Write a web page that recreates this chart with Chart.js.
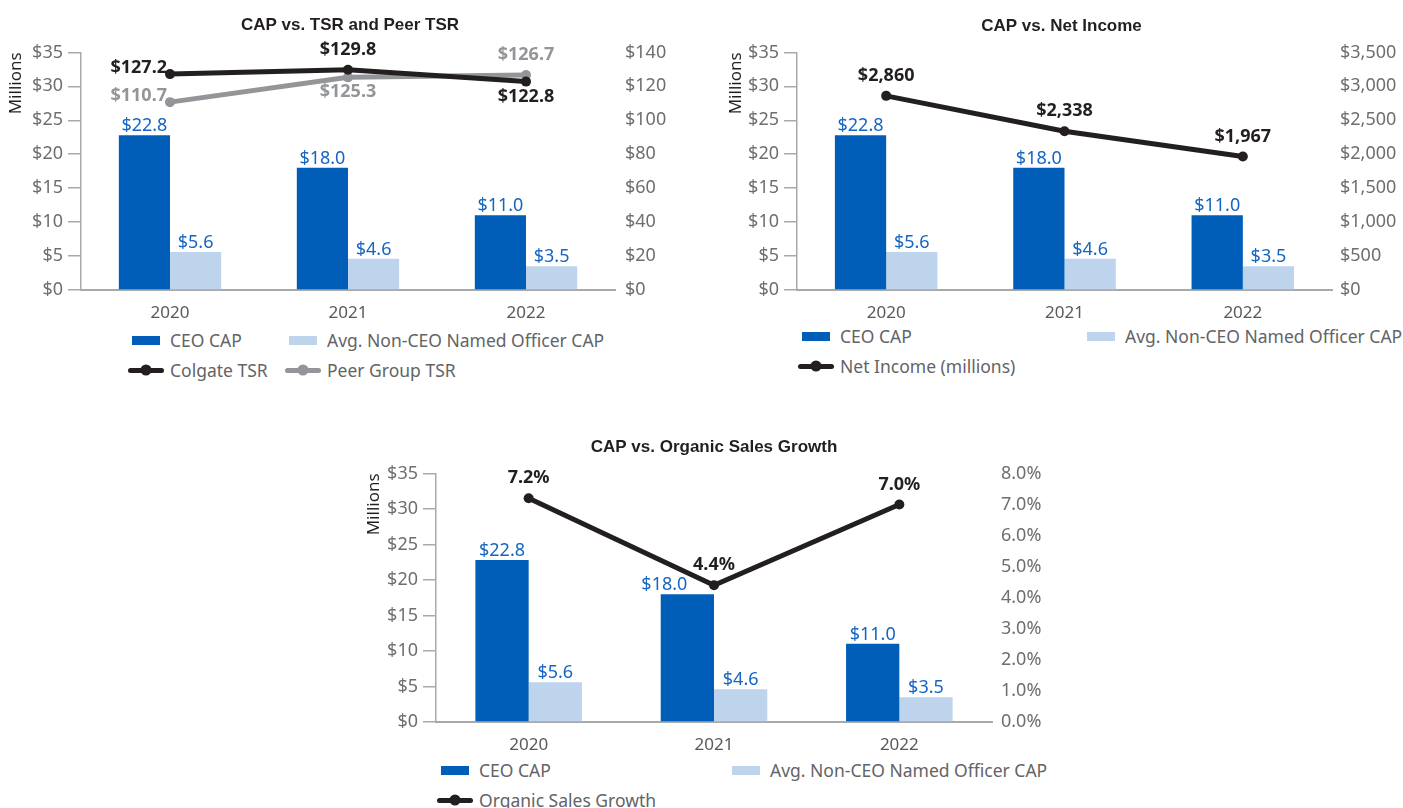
<!DOCTYPE html>
<html>
<head>
<meta charset="utf-8">
<title>CAP charts</title>
<script src="https://cdn.jsdelivr.net/npm/chart.js@4.4.1/dist/chart.umd.min.js"></script>
<style>
    body {
        margin: 0;
        width: 1403px;
        height: 808px;
        position: relative;
        overflow: hidden;
        background: #fff;
        font-family: "Noto Sans", sans-serif;
    }
    .box { position: absolute; }
    .legend {
        position: absolute;
        display: grid;
        grid-auto-rows: 30px;
        font-size: 17.5px;
        color: #636466;
    }
    .legend-item {
        display: flex;
        align-items: center;
        white-space: nowrap;
    }
    .mark-bar {
        width: 28px;
        height: 9px;
        margin-left: 4px;
        margin-right: 10px;
    }
    .mark-line {
        position: relative;
        width: 36px;
        height: 5px;
        border-radius: 3px;
        margin-right: 6px;
    }
    .mark-line::after {
        content: "";
        position: absolute;
        left: 50%;
        top: 50%;
        width: 11px;
        height: 11px;
        border-radius: 50%;
        background: inherit;
        transform: translate(-50%, -50%);
    }
</style>
</head>
<body>

<div class="box" style="left:0; top:0; width:700px; height:320px;"><canvas id="tsrChart"></canvas></div>
<div class="legend" id="tsrLegend" style="left:128px; top:325px; grid-template-columns:157px auto;"></div>

<div class="box" style="left:720px; top:0; width:683px; height:320px;"><canvas id="incomeChart"></canvas></div>
<div class="legend" id="incomeLegend" style="left:798px; top:321px; grid-template-columns:285px auto;"></div>

<div class="box" style="left:358px; top:420px; width:712px; height:332px;"><canvas id="growthChart"></canvas></div>
<div class="legend" id="growthLegend" style="left:437px; top:755px; grid-template-columns:291px auto;"></div>

<script>
// values (CAP in $ millions)
const years = ['2020', '2021', '2022'];
const ceoCap = [22.8, 18.0, 11.0];
const otherCap = [5.6, 4.6, 3.5];
const colgateTsr = [127.2, 129.8, 122.8];
const peerTsr = [110.7, 125.3, 126.7];
const netIncome = [2860, 2338, 1967];
const organicGrowth = [7.2, 4.4, 7.0];

// axis ranges: [min, max, step]
const capRange = [0, 35, 5];
const tsrRange = [0, 140, 20];
const incomeRange = [0, 3500, 500];
const growthRange = [0, 8, 1];

const FONT = '"Noto Sans", sans-serif';
const TITLE_FONT = '"Liberation Sans Narrow", "Liberation Sans", sans-serif';
const BLUE = '#005eb8';
const LIGHT_BLUE = '#bed3ec';
const LABEL_BLUE = '#1565c4';
const DARK = '#231f20';
const GREY_LINE = '#939598';
const AXIS = '#a7a9ac';
const TICK_TEXT = '#6d6e71';

const money1 = v => '$' + v.toFixed(1);
const moneyInt = v => '$' + v.toLocaleString('en-US');
const pct = v => v.toFixed(1) + '%';

// draws value text next to each bar / point
const valueLabels = {
    id: 'valueLabels',
    afterDatasetsDraw(chart) {
        const ctx = chart.ctx;
        chart.data.datasets.forEach((ds, i) => {
            const lbl = ds.valueLabel;
            if (!lbl) return;
            const meta = chart.getDatasetMeta(i);
            ctx.save();
            ctx.font = (lbl.bold ? 'bold ' : '') + '18px ' + FONT;
            ctx.fillStyle = lbl.color;
            meta.data.forEach((el, j) => {
                const text = lbl.format(ds.data[j]);
                const pos = lbl.pos ? lbl.pos[j] : 'top';
                let x = el.x + (lbl.dx ? lbl.dx[j] : 0);
                let y = el.y;
                if (pos === 'left') {
                    ctx.textAlign = 'right';
                    ctx.textBaseline = 'middle';
                    x -= 3;
                    y -= 6;
                } else if (pos === 'bottom') {
                    ctx.textAlign = 'center';
                    ctx.textBaseline = 'top';
                    y += 6;
                } else {
                    ctx.textAlign = 'center';
                    ctx.textBaseline = 'bottom';
                    y -= lbl.gap;
                }
                ctx.fillText(text, x, y);
            });
            ctx.restore();
        });
    }
};

function lineDataset(label, data, color, format, pos) {
    return {
        type: 'line',
        label: label,
        data: data,
        yAxisID: 'y1',
        order: 0,
        borderColor: color,
        backgroundColor: color,
        borderWidth: 5,
        pointRadius: 5,
        pointBackgroundColor: color,
        pointBorderWidth: 0,
        tension: 0,
        valueLabel: { format: format, color: color, bold: true, gap: 11, pos: pos }
    };
}

function capChart(canvasId, opts) {
    const datasets = [
        {
            type: 'bar',
            label: 'CEO CAP',
            data: ceoCap,
            backgroundColor: BLUE,
            yAxisID: 'y',
            order: 1,
            valueLabel: { format: money1, color: LABEL_BLUE, gap: 0, dx: opts.ceoLabelShift }
        },
        {
            type: 'bar',
            label: 'Avg. Non-CEO Named Officer CAP',
            data: otherCap,
            backgroundColor: LIGHT_BLUE,
            yAxisID: 'y',
            order: 1,
            valueLabel: { format: money1, color: LABEL_BLUE, gap: 0 }
        }
    ].concat(opts.lines);

    return new Chart(document.getElementById(canvasId), {
        type: 'bar',
        data: { labels: years, datasets: datasets },
        options: {
            responsive: true,
            maintainAspectRatio: false,
            animation: false,
            datasets: {
                bar: { categoryPercentage: 0.575, barPercentage: 1 }
            },
            layout: { padding: 0 },
            plugins: {
                legend: { display: false },
                tooltip: { enabled: false },
                title: {
                    display: true,
                    text: opts.title,
                    color: DARK,
                    font: { family: TITLE_FONT, size: 17, weight: 'bold' },
                    padding: opts.titlePadding
                }
            },
            scales: {
                x: {
                    grid: { display: false },
                    border: { color: AXIS, width: 2 },
                    ticks: { color: '#58595b', font: { family: FONT, size: 17 }, padding: 5 },
                    afterFit(s) { s.height = opts.xHeight; }
                },
                y: {
                    position: 'left',
                    min: capRange[0],
                    max: capRange[1],
                    ticks: {
                        stepSize: capRange[2],
                        callback: v => '$' + v,
                        color: TICK_TEXT,
                        font: { family: FONT, size: 18 },
                        padding: 5
                    },
                    grid: { drawOnChartArea: false, tickLength: 13, color: AXIS, lineWidth: 1.5 },
                    border: { color: AXIS, width: 1.5 },
                    title: {
                        display: true,
                        text: 'Millions',
                        align: 'end',
                        color: DARK,
                        font: { family: FONT, size: 17 },
                        padding: { top: 6, bottom: 0 }
                    },
                    afterFit(s) { s.width = opts.leftWidth; }
                },
                y1: {
                    position: 'right',
                    min: opts.range[0],
                    max: opts.range[1],
                    ticks: {
                        stepSize: opts.range[2],
                        callback: opts.tick,
                        color: TICK_TEXT,
                        font: { family: FONT, size: 18 },
                        padding: opts.rightPad
                    },
                    grid: { display: false, drawTicks: false },
                    border: { display: false },
                    afterFit(s) { s.width = opts.rightWidth; }
                }
            }
        },
        plugins: [valueLabels]
    });
}

function buildLegend(chart, legendId) {
    const box = document.getElementById(legendId);
    chart.data.datasets.forEach(ds => {
        const item = document.createElement('div');
        item.className = 'legend-item';
        const mark = document.createElement('span');
        if (ds.type === 'bar') {
            mark.className = 'mark-bar';
            mark.style.background = ds.backgroundColor;
        } else {
            mark.className = 'mark-line';
            mark.style.background = ds.borderColor;
        }
        const text = document.createElement('span');
        text.textContent = ds.label;
        item.appendChild(mark);
        item.appendChild(text);
        box.appendChild(item);
    });
}

const tsrChart = capChart('tsrChart', {
    title: 'CAP vs. TSR and Peer TSR',
    titlePadding: { top: 15, bottom: 17 },
    xHeight: 30,
    leftWidth: 81,
    rightWidth: 85,
    rightPad: 10,
    range: tsrRange,
    tick: v => '$' + v,
    lines: [
        lineDataset('Colgate TSR', colgateTsr, DARK, money1, ['left', 'top', 'bottom']),
        lineDataset('Peer Group TSR', peerTsr, GREY_LINE, money1, ['left', 'bottom', 'top'])
    ]
});

const incomeChart = capChart('incomeChart', {
    title: 'CAP vs. Net Income',
    titlePadding: { top: 16, bottom: 16 },
    xHeight: 30,
    leftWidth: 77,
    rightWidth: 71,
    rightPad: 8,
    range: incomeRange,
    tick: v => moneyInt(v),
    lines: [
        lineDataset('Net Income (millions)', netIncome, DARK, moneyInt, null)
    ]
});

const growthChart = capChart('growthChart', {
    title: 'CAP vs. Organic Sales Growth',
    titlePadding: { top: 17, bottom: 16 },
    xHeight: 30,
    leftWidth: 78,
    rightWidth: 78,
    rightPad: 9,
    range: growthRange,
    tick: v => pct(v),
    ceoLabelShift: [0, -23, 0],
    lines: [
        lineDataset('Organic Sales Growth', organicGrowth, DARK, pct, null)
    ]
});

buildLegend(tsrChart, 'tsrLegend');
buildLegend(incomeChart, 'incomeLegend');
buildLegend(growthChart, 'growthLegend');
</script>
</body>
</html>
